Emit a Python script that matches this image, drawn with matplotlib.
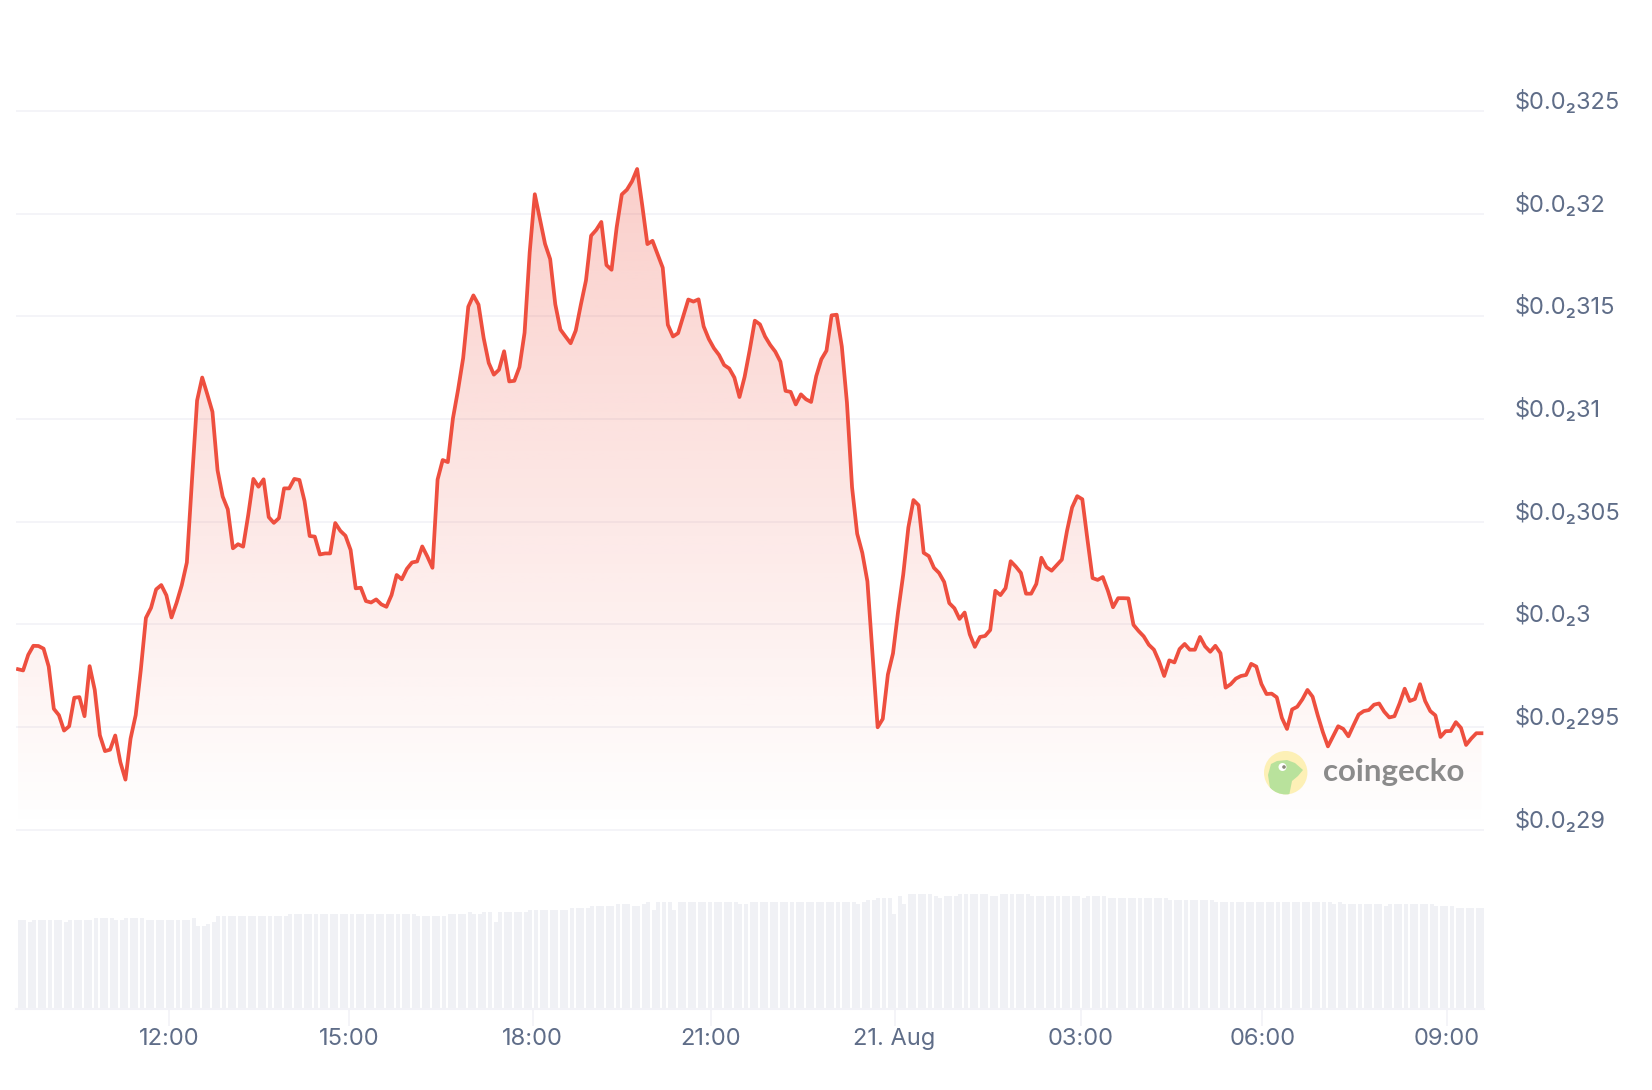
import numpy as np
import matplotlib
matplotlib.use('Agg')
import matplotlib.pyplot as plt
from matplotlib.patches import Circle, Polygon

# price in units of 0.00001 USD, one sample per bar (ordinal axis)
price = [
    297.81, 297.75, 298.51, 298.95, 298.94, 298.81, 297.94, 295.88, 295.57, 294.82,
    295.03, 296.42, 296.45, 295.52, 297.96, 296.80, 294.59, 293.82, 293.89, 294.58,
    293.28, 292.43, 294.43, 295.57, 297.78, 300.31, 300.80, 301.70, 301.91, 301.41,
    300.33, 301.05, 301.90, 303.01, 307.01, 310.90, 312.02, 311.20, 310.35, 307.50,
    306.22, 305.60, 303.70, 303.90, 303.78, 305.33, 307.08, 306.70, 307.06, 305.22,
    304.94, 305.17, 306.62, 306.62, 307.08, 307.03, 306.00, 304.30, 304.27, 303.40,
    303.45, 303.45, 304.93, 304.55, 304.31, 303.62, 301.75, 301.78, 301.13, 301.06,
    301.21, 300.97, 300.85, 301.42, 302.40, 302.19, 302.70, 303.01, 303.06, 303.79,
    303.30, 302.75, 307.05, 308.00, 307.90, 310.03, 311.42, 312.97, 315.47, 316.02,
    315.57, 313.95, 312.73, 312.16, 312.40, 313.30, 311.83, 311.86, 312.53, 314.20,
    318.12, 320.95, 319.75, 318.53, 317.79, 315.59, 314.36, 314.02, 313.69, 314.31,
    315.57, 316.75, 318.93, 319.21, 319.60, 317.50, 317.27, 319.34, 320.94, 321.17,
    321.58, 322.18, 320.40, 318.52, 318.68, 318.03, 317.37, 314.59, 314.02, 314.18,
    315.00, 315.82, 315.72, 315.83, 314.51, 313.90, 313.45, 313.12, 312.63, 312.46,
    312.02, 311.07, 312.05, 313.36, 314.79, 314.61, 314.02, 313.61, 313.28, 312.79,
    311.37, 311.32, 310.71, 311.20, 310.96, 310.83, 312.09, 312.91, 313.33, 315.05,
    315.08, 313.53, 310.80, 306.67, 304.41, 303.48, 302.09, 298.50, 294.98, 295.39,
    297.55, 298.58, 300.62, 302.42, 304.71, 306.05, 305.80, 303.48, 303.32, 302.75,
    302.50, 302.06, 301.03, 300.78, 300.26, 300.57, 299.51, 298.90, 299.38, 299.43,
    299.72, 301.63, 301.42, 301.76, 303.07, 302.81, 302.50, 301.49, 301.49, 301.96,
    303.24, 302.78, 302.61, 302.88, 303.15, 304.54, 305.69, 306.24, 306.09, 304.13,
    302.25, 302.16, 302.30, 301.63, 300.83, 301.27, 301.27, 301.26, 299.97, 299.67,
    299.41, 299.00, 298.76, 298.19, 297.48, 298.24, 298.14, 298.79, 299.04, 298.76,
    298.76, 299.38, 298.92, 298.66, 298.95, 298.59, 296.91, 297.08, 297.35, 297.48,
    297.53, 298.07, 297.94, 297.09, 296.60, 296.62, 296.44, 295.44, 294.90, 295.85,
    295.98, 296.34, 296.80, 296.47, 295.57, 294.75, 294.05, 294.54, 295.03, 294.90,
    294.54, 295.08, 295.60, 295.77, 295.82, 296.08, 296.14, 295.74, 295.46, 295.52,
    296.14, 296.86, 296.26, 296.36, 297.08, 296.26, 295.77, 295.56, 294.51, 294.79,
    294.80, 295.23, 294.95, 294.12, 294.43, 294.69, 294.69,
]

# volume as level / run length pairs, arbitrary units
vol_levels = [89, 87, 89, 87, 89, 91, 89, 91, 89, 91, 83, 85, 87, 93, 95, 93, 95, 97, 95, 97,
              87, 97, 99, 101, 103, 105, 103, 105, 107, 99, 107, 99, 107, 105, 107, 105, 107,
              109, 111, 95, 113, 105, 115, 113, 111, 113, 115, 113, 115, 113, 111, 113, 111,
              109, 107, 105, 107, 105, 103, 105, 103, 101]
vol_runs = [2, 1, 6, 1, 5, 4, 2, 4, 9, 1, 2, 1, 1, 14, 25, 6, 4, 1, 2, 2,
            1, 6, 8, 4, 5, 3, 2, 1, 1, 1, 3, 1, 12, 2, 21, 1, 1,
            2, 3, 1, 1, 1, 5, 1, 1, 3, 6, 2, 6, 10, 1, 4, 12,
            9, 23, 1, 1, 8, 1, 9, 4, 6]
volume = np.repeat(vol_levels, vol_runs)

y_ticks = [290, 295, 300, 305, 310, 315, 320, 325]
y_labels = ['$0.0₂29', '$0.0₂295', '$0.0₂3', '$0.0₂305', '$0.0₂31', '$0.0₂315', '$0.0₂32', '$0.0₂325']
x_ticks = [29.5, 64.7, 100.6, 135.4, 171.3, 207.7, 243.2, 279.3]
x_labels = ['12:00', '15:00', '18:00', '21:00', '21. Aug', '03:00', '06:00', '09:00']

W, H = 1652, 1090
LINE = '#ee4f3f'
GRID = '#f2f2f7'
TEXT = '#5f6d88'
BAR = '#f0f1f5'

plt.rcParams['font.family'] = ['Inter', 'DejaVu Sans']


def add_ax(left, top, right, bottom):
    return fig.add_axes([left / W, 1 - bottom / H, (right - left) / W, (bottom - top) / H])


fig = plt.figure(figsize=(W / 100, H / 100), dpi=100)
xlim = (-0.39, 286.5)
x = np.arange(len(price))

# price panel
ax = add_ax(16, 60, 1484, 880)
ax.patch.set_alpha(0)
ax.set_yticks(y_ticks)
ax.set_xticks([])
ax.yaxis.grid(True, color=GRID, lw=1.2)
ax.set_axisbelow(True)
ax.tick_params(left=False, labelleft=False)
for s in ax.spines.values():
    s.set_visible(False)

# gradient under the line
grad = np.zeros((256, 2, 4))
grad[..., :3] = matplotlib.colors.to_rgb(LINE)
grad[..., 3] = np.linspace(0.28, 0, 256)[:, None]
im = ax.imshow(grad, extent=(0, len(price) - 1, 290, 323), aspect='auto', origin='upper', zorder=2)
verts = list(zip(x, price)) + [(x[-1], 290), (0, 290)]
clip = Polygon(verts, closed=True, transform=ax.transData, fc='none', ec='none')
ax.add_patch(clip)
im.set_clip_path(clip)
ax.set_xlim(xlim)
ax.set_ylim(287.54, 327.49)

ax.plot(x, price, color=LINE, lw=2.7, solid_joinstyle='round', zorder=3)

for v, lab in zip(y_ticks, y_labels):
    ax.annotate(lab, (1, v), xycoords=ax.get_yaxis_transform(), xytext=(31, 9), textcoords='offset pixels',
                color=TEXT, fontsize=17, va='center', ha='left')

# volume panel
ax2 = add_ax(16, 830, 1484, 1009)
ax2.set_xlim(xlim)
ax2.set_ylim(0, 179)
ax2.patch.set_alpha(0)

# the source snaps its columns to a 2 px grid, which gives the uneven gaps
idx = np.arange(len(volume))
to_px = ax2.transData.transform(np.column_stack([idx, volume]))[:, 0]
left_px = np.floor((to_px + 0.3) / 2) * 2
left = ax2.transData.inverted().transform(np.column_stack([left_px, volume]))[:, 0]
bar_w = ax2.transData.inverted().transform([(4, 0)])[0, 0] - ax2.transData.inverted().transform([(0, 0)])[0, 0]
ax2.bar(left, volume, width=bar_w, align='edge', color=BAR, linewidth=0)

ax2.set_yticks([])
ax2.set_xticks(x_ticks)
ax2.set_xticklabels(x_labels, color=TEXT, fontsize=17)
ax2.tick_params(axis='x', length=12.5, width=1.2, color=GRID, pad=1.5)
for side in ['top', 'left', 'right']:
    ax2.spines[side].set_visible(False)
ax2.spines['bottom'].set_color(GRID)
ax2.spines['bottom'].set_linewidth(1.5)

# logo overlay in pixel coordinates
ov = fig.add_axes([0, 0, 1, 1])
ov.set_xlim(0, W)
ov.set_ylim(H, 0)
ov.axis('off')
disc = Circle((1285.7, 772.7), 21.7, fc='#fdf0b6', ec='none')
ov.add_patch(disc)
body = [(1278, 796), (1270, 788), (1268, 775), (1271, 764), (1277, 761), (1287, 760), (1295, 763),
        (1303, 770), (1298, 776), (1292, 781), (1289, 796)]
head = Polygon(body, closed=True, fc='#b9e29c', ec='none')
ov.add_patch(head)
head.set_clip_path(disc)
ov.add_patch(Circle((1282.5, 767), 4, fc='white', ec='none'))
ov.add_patch(Circle((1284, 767), 1.8, fc='#8a8a7a', ec='none'))
ov.text(1323, 772.5, 'coingecko', family=['Lato', 'DejaVu Sans'], fontweight='bold', fontsize=22.5,
        color='#8b8b8b', va='center', ha='left')

fig.savefig('out.png', dpi=100)
